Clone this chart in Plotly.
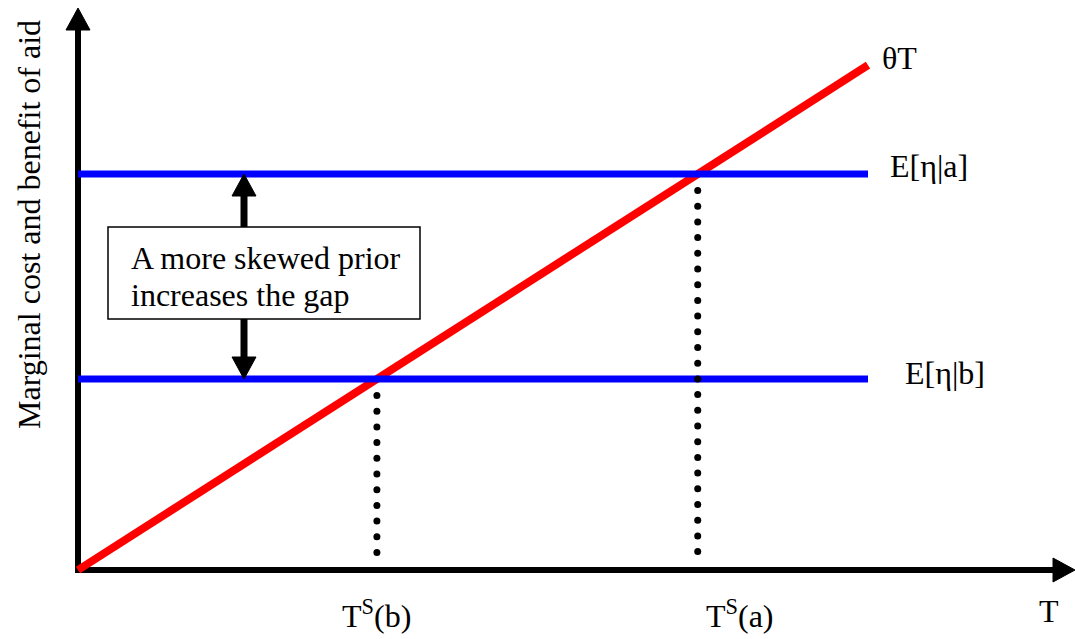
import numpy as np
import plotly.graph_objects as go

# Model parameters (horizontal unit: aid T, vertical unit: marginal cost / benefit)
theta = 0.639          # slope of marginal cost curve  θT
T_max = 7.9            # right end of the drawn curves
E_a = 3.96             # E[η|a]
E_b = 1.91             # E[η|b]

curve_labels = ["θT", "E[η|a]", "E[η|b]"]
x_tick_labels = ["T<sup>S</sup>(b)", "T<sup>S</sup>(a)"]
x_title = "T"
y_title = "Marginal cost and benefit of aid"
note_lines = ["A more skewed prior", "increases the gap"]

# Intersections T^S = E/θ
ts_b = E_b / theta
ts_a = E_a / theta

FONT = dict(family="Liberation Serif, Times New Roman, serif", size=32, color="black")

X_RANGE = [-0.78, 9.97]
Y_RANGE = [-0.69, 5.70]
HEAD = 0.12     # half width of arrowheads
HEAD_LEN = 0.22

fig = go.Figure()


def line(xs, ys, color, width):
    fig.add_trace(go.Scatter(x=xs, y=ys, mode="lines",
                             line=dict(color=color, width=width),
                             hoverinfo="skip", showlegend=False))


def triangle(xs, ys):
    fig.add_trace(go.Scatter(x=xs + [xs[0]], y=ys + [ys[0]], mode="lines",
                             fill="toself", fillcolor="black",
                             line=dict(color="black", width=1),
                             hoverinfo="skip", showlegend=False))


def label(x, y, text, **kw):
    fig.add_annotation(x=x, y=y, text=text, showarrow=False,
                       xanchor=kw.pop("xanchor", "left"), yanchor="middle",
                       font=FONT, **kw)


# Axes with arrowheads
y_tip = 5.62
x_tip = 9.97
line([0, 0], [-0.03, y_tip - HEAD_LEN + 0.01], "black", 6)
triangle([-HEAD, HEAD, 0], [y_tip - HEAD_LEN, y_tip - HEAD_LEN, y_tip])
line([-0.03, x_tip - HEAD_LEN + 0.01], [0, 0], "black", 6)
triangle([x_tip - HEAD_LEN, x_tip - HEAD_LEN, x_tip], [-HEAD, HEAD, 0])

# Marginal cost θT
T = np.array([0.0, T_max])
line(T.tolist(), (theta * T).tolist(), "#FF0000", 8)

# Expected benefits
line([0, T_max], [E_a, E_a], "#0000FF", 7)
line([0, T_max], [E_b, E_b], "#0000FF", 7)

# Dotted drop lines at the intersections
step = 0.157
for ts, e in [(ts_b, E_b), (ts_a, E_a)]:
    ys = np.arange(e - 0.165, 0.12, -step)
    fig.add_trace(go.Scatter(x=[ts] * len(ys), y=ys, mode="markers",
                             marker=dict(color="black", size=7),
                             hoverinfo="skip", showlegend=False))

# Double arrow showing the gap between the two expectations
gx = 1.66
box_x0, box_x1 = 0.30, 3.42
box_y0, box_y1 = 2.51, 3.43
line([gx, gx], [box_y1, E_a - HEAD_LEN + 0.01], "black", 7)
triangle([gx - HEAD, gx + HEAD, gx], [E_a - HEAD_LEN, E_a - HEAD_LEN, E_a])
line([gx, gx], [box_y0, E_b + HEAD_LEN - 0.01], "black", 7)
triangle([gx - HEAD, gx + HEAD, gx], [E_b + HEAD_LEN, E_b + HEAD_LEN, E_b])

fig.add_shape(type="rect", x0=box_x0, x1=box_x1, y0=box_y0, y1=box_y1,
              line=dict(color="black", width=1.5), fillcolor="white", layer="above")
label(box_x0 + 0.21, 3.12, note_lines[0])
label(box_x0 + 0.21, 2.75, note_lines[1])

# Curve labels
label(T_max + 0.12, theta * T_max + 0.07, curve_labels[0])
label(T_max + 0.20, E_a + 0.08, curve_labels[1])
label(T_max + 0.35, E_b + 0.06, curve_labels[2])

# Axis labels
label(ts_b - 0.37, -0.44, x_tick_labels[0])
label(ts_a + 0.06, -0.44, x_tick_labels[1])
label(9.59, -0.41, x_title)
label(-0.49, 3.45, y_title, xanchor="center", textangle=-90)

fig.update_layout(
    width=1075, height=639,
    margin=dict(l=0, r=0, t=0, b=0),
    paper_bgcolor="white", plot_bgcolor="white",
    xaxis=dict(range=X_RANGE, visible=False, fixedrange=True),
    yaxis=dict(range=Y_RANGE, visible=False, fixedrange=True),
    showlegend=False,
)

fig.write_html("out.html")
